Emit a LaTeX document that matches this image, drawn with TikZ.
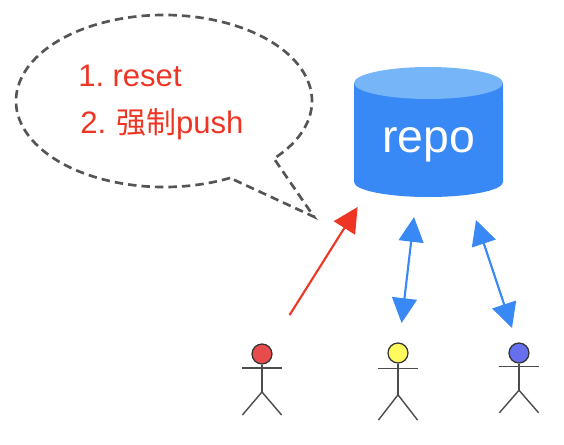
\documentclass[tikz,border=0pt]{standalone}
\usepackage{fontspec}
\setmainfont{Liberation Sans}
\newfontfamily\cjk{Noto Sans CJK SC}
\usetikzlibrary{arrows.meta}
\definecolor{repoblue}{HTML}{3888F5}
\definecolor{repotop}{HTML}{75B5F8}
\definecolor{pushred}{HTML}{EE3524}
\definecolor{bubblegray}{HTML}{555555}
\definecolor{headred}{HTML}{E84B4B}
\definecolor{headyellow}{HTML}{FFFB5C}
\definecolor{headblue}{HTML}{6670EE}
\tikzset{
    redtext/.style={anchor=base west,inner sep=0pt,text=pushred,font=\fontsize{22.1}{24}\selectfont},
    bubble/.style={draw=bubblegray,line width=1.9pt,dash pattern=on 6pt off 3.6pt},
    pusharrow/.style={-{Triangle[length=.62cm,width=.62cm]},pushred,line width=1.5pt},
    syncarrow/.style={{Triangle[length=.62cm,width=.62cm]}-{Triangle[length=.62cm,width=.62cm]},repoblue,line width=1.5pt},
    head/.style={circle,draw=black!80,line width=.9pt,minimum size=.5cm,inner sep=0pt},
    limb/.style={draw=black!70,line width=1pt}
}
\begin{document}
    \begin{tikzpicture}
        \useasboundingbox (0,0) rectangle (14.1,11.1);
        \draw [bubble] (4.1,8.575) ++(-63.5:3.7 and 2.15) arc [start angle=-63.5,end angle=-402,x radius=3.7,y radius=2.15] -- (7.85,5.68) -- cycle;
        \node (reset) [redtext] at (1.95,8.93) {1.\hspace{-.1em} reset};
        \node (force) [redtext] at (2,7.775) {2.\hspace{-.05em} {\cjk\fontsize{21.3}{24}\selectfont 强制}push};
        \fill [repoblue] (8.85,9.025) -- (8.85,6.55) arc [start angle=180,end angle=360,x radius=1.8625,y radius=.375] -- (12.575,9.025) -- cycle;
        \fill [repotop] (10.7125,9.025) ellipse [x radius=1.8625,y radius=.4];
        \node (repo) [anchor=base,inner sep=0pt,text=white,font=\fontsize{33}{36}\selectfont] at (10.7125,7.3) {repo};
        \coordinate (redfrom) at (7.24,3.225);
        \coordinate (redto) at (8.94,5.925);
        \coordinate (yellowfrom) at (10.04,3.025);
        \coordinate (yellowto) at (10.35,5.675);
        \coordinate (bluefrom) at (12.8,2.9);
        \coordinate (blueto) at (11.9,5.6);
        \draw [pusharrow] (redfrom) -- (redto);
        \draw [syncarrow] (yellowfrom) -- (yellowto);
        \draw [syncarrow] (bluefrom) -- (blueto);
        \foreach \name/\px/\py/\pc/\ps in {a/6.55/2.25/headred/1,b/9.95/2.275/headyellow/1.1,c/12.975/2.275/headblue/.98} {
            \begin{scope}[shift={(\px,\py)},yscale=\ps]
                \node (head\name) [head,fill=\pc] at (0,0) {};
                \coordinate (hip\name) at (0,-.95);
                \draw [limb] (-.49,-.35) -- (.49,-.35);
                \draw [limb] (head\name) -- (hip\name);
                \draw [limb] (-.49,-1.525) -- (hip\name) -- (.49,-1.525);
            \end{scope}
        }
    \end{tikzpicture}
\end{document}
